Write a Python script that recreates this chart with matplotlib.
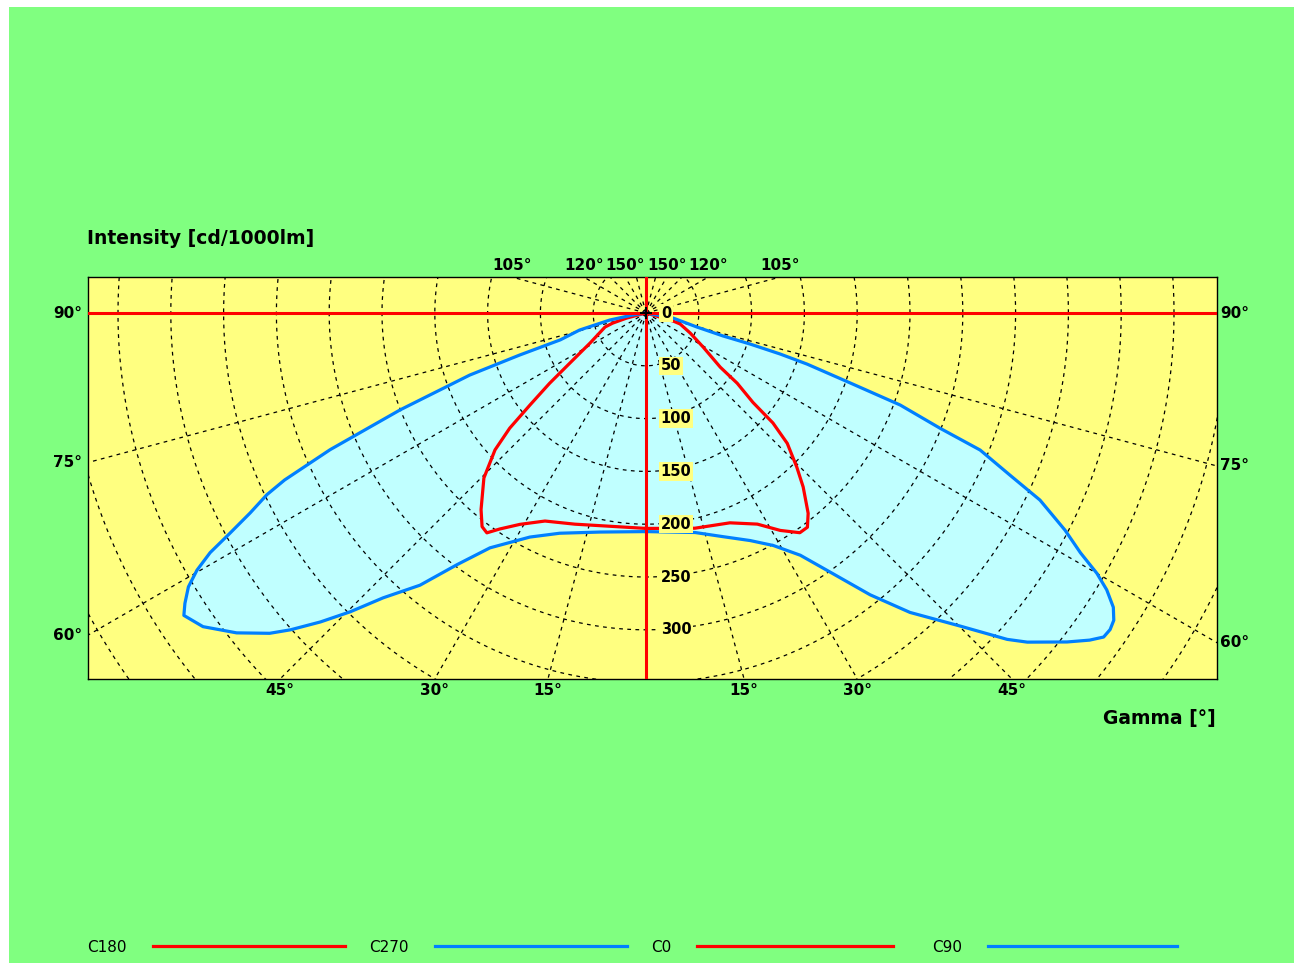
import numpy as np
import matplotlib.pyplot as plt
from matplotlib.lines import Line2D
from matplotlib.patches import Rectangle

# intensity curves
# gamma in degrees (0 = straight down, 90 = horizontal), intensity in cd/1000lm
c180_gamma = [0, 6.9, 18.6, 25.9, 30.8, 34.1, 35.9, 37.5, 40.0, 44.5,
              47.8, 49.8, 51.6, 53.9, 56.7, 61.8, 71.1, 73.1, 75.3, 90]
c180_int = [204, 204, 211, 219, 233, 247, 257, 255, 243, 219,
            193, 169, 140, 113, 86, 60, 41, 33, 19, 0]

c270_gamma = [0, 11.9, 21.4, 27.4, 33.6, 36.9, 39.7, 42.7, 44.7, 46.5,
              48.3, 49.6, 52.0, 54.7, 56.8, 57.8, 59.1, 60.2, 61.2, 62.1,
              63.2, 64.4, 65.2, 66.6, 68.5, 70.6, 71.6, 72.6, 75.6, 79.0,
              81.3, 90]
c270_int = [207, 212, 224, 239, 267, 298, 335, 367, 398, 425,
            451, 468, 492, 514, 523, 516, 505, 490, 471, 446,
            420, 398, 377, 326, 250, 177, 126, 85, 65, 35,
            13, 0]

c0_gamma = [0, 12.8, 21.8, 27.8, 31.7, 35.0, 37.0, 39.0, 42.1, 44.4,
            47.3, 49.1, 50.1, 52.4, 53.9, 59.2, 65.6, 72.1, 73.5, 90]
c0_int = [204, 209, 214, 226, 242, 254, 254, 244, 222, 204,
          182, 159, 132, 109, 87, 63, 46, 34, 27, 0]

c90_gamma = [0, 12.6, 19.0, 24.6, 28.7, 32.5, 35.4, 38.5, 41.4, 45.1,
             47.9, 49.2, 52.0, 53.6, 54.7, 55.7, 56.7, 57.8, 59.0, 60.0,
             61.1, 62.6, 64.6, 66.0, 67.7, 68.6, 70.1, 71.1, 72.4, 73.0,
             73.4, 73.4, 74.6, 79.5, 90]
c90_int = [207, 213, 224, 237, 251, 272, 301, 341, 378, 420,
           461, 477, 506, 522, 531, 532, 530, 523, 509, 493,
           470, 447, 413, 377, 342, 299, 256, 204, 160, 133,
           103, 76, 50, 26, 0]

intensity_ticks = [0, 50, 100, 150, 200, 250, 300]
side_labels = [90, 75, 60]
bottom_labels = [45, 30, 15]
top_labels = [105, 120, 150]

legend_names = ['C180', 'C270', 'C0', 'C90']

W, H = 1294, 963
PX = 1.056            # pixels per cd
OX, OY = 646, 313     # origin in pixels
GREEN = '#80FF80'
YELLOW = '#FFFF80'
CYAN = '#C0FFFF'
RED = '#FF0000'
BLUE = '#0080FF'
legend_colors = [RED, BLUE, RED, BLUE]


def proj(g, i, side):
    g = np.radians(np.asarray(g, dtype=float))
    i = np.asarray(i, dtype=float)
    return side * i * np.sin(g), -i * np.cos(g)


fig = plt.figure(figsize=(W / 100, H / 100), dpi=100, facecolor='white')
fig.add_artist(Rectangle((9 / W, 0), 1 - 9 / W, 1 - 7 / H, transform=fig.transFigure,
                         facecolor=GREEN, edgecolor='none', zorder=0))

L, T, R, B = 88, 277, 1217, 679
ax = fig.add_axes([L / W, 1 - B / H, (R - L) / W, (B - T) / H])
ax.set_facecolor(YELLOW)
xmin, xmax = (L - OX) / PX, (R - OX) / PX
ymin, ymax = -(B - OY) / PX, (OY - T) / PX
ax.set_xlim(xmin, xmax)
ax.set_ylim(ymin, ymax)
ax.set_xticks([])
ax.set_yticks([])
for s in ax.spines.values():
    s.set_color('black')
    s.set_linewidth(1.0)

# filled area of the blue curves
lx, ly = proj(c270_gamma, c270_int, -1)
rx, ry = proj(c90_gamma, c90_int, 1)
ax.fill(np.concatenate([lx[::-1], rx]), np.concatenate([ly[::-1], ry]),
        color=CYAN, lw=0, zorder=1)

# polar grid
t = np.linspace(0, 2 * np.pi, 721)
for r in range(50, 701, 50):
    ax.plot(r * np.cos(t), r * np.sin(t), color='black', lw=0.9,
            ls=(0, (3, 3.5)), zorder=2)
for g in range(0, 360, 15):
    a = np.radians(g)
    ax.plot([0, 900 * np.sin(a)], [0, -900 * np.cos(a)], color='black', lw=0.9,
            ls=(0, (3, 3.5)), zorder=2)

# curves
for gam, inten, side, col in [(c180_gamma, c180_int, -1, RED),
                              (c270_gamma, c270_int, -1, BLUE),
                              (c0_gamma, c0_int, 1, RED),
                              (c90_gamma, c90_int, 1, BLUE)]:
    x, y = proj(gam, inten, side)
    ax.plot(x, y, color=col, lw=2.3, zorder=4, solid_joinstyle='round')

ax.axhline(0, color=RED, lw=2.2, zorder=5)
ax.axvline(0, color=RED, lw=2.2, zorder=5)
ax.plot(0, 0, 'k+', ms=8, mew=1.5, zorder=5)

# intensity labels
for v in intensity_ticks:
    ax.text(14, -v, str(v), ha='left', va='center', fontsize=10.5, fontweight='bold',
            bbox=dict(boxstyle='square,pad=0.12', fc=YELLOW, ec='none'), zorder=6)

# gamma labels
lab = dict(fontsize=11, fontweight='bold', annotation_clip=False)
for g in side_labels:
    a = np.radians(g)
    yl = -(-xmin / np.sin(a)) * np.cos(a)
    yr = -(xmax / np.sin(a)) * np.cos(a)
    ax.annotate(f'{g}°', (0, yl), xycoords=('axes fraction', 'data'), xytext=(-4, 0),
                textcoords='offset points', ha='right', va='center', **lab)
    ax.annotate(f'{g}°', (1, yr), xycoords=('axes fraction', 'data'), xytext=(2, 0),
                textcoords='offset points', ha='left', va='center', **lab)
for g in bottom_labels:
    a = np.radians(g)
    xb = -ymin * np.tan(a)
    for side in (-1, 1):
        ax.annotate(f'{g}°', (side * xb, 0), xycoords=('data', 'axes fraction'), xytext=(0, -3),
                    textcoords='offset points', ha='center', va='top', **lab)
for g in top_labels:
    a = np.radians(g)
    xt = ymax / -np.cos(a) * np.sin(a)
    for side in (-1, 1):
        ax.annotate(f'{g}°', (side * xt, 1), xycoords=('data', 'axes fraction'), xytext=(0, 3),
                    textcoords='offset points', ha='center', va='bottom', **lab)

fig.text(87 / W, 1 - 238 / H, 'Intensity [cd/1000lm]', fontsize=13.5, fontweight='bold',
         ha='left', va='center')
fig.text(1216 / W, 1 - 718 / H, 'Gamma [°]', fontsize=13.5, fontweight='bold',
         ha='right', va='center')

# legend along the bottom
text_x = [87, 369, 651, 932]
line_x = [(153, 345), (435, 627), (697, 893), (988, 1177)]
for name, col, tx, (x0, x1) in zip(legend_names, legend_colors, text_x, line_x):
    fig.text(tx / W, 1 - 947 / H, name, fontsize=11, ha='left', va='center')
    fig.add_artist(Line2D([x0 / W, x1 / W], [1 - 946 / H, 1 - 946 / H],
                          transform=fig.transFigure, color=col, lw=2.3))

fig.savefig('out.png', dpi=100)
